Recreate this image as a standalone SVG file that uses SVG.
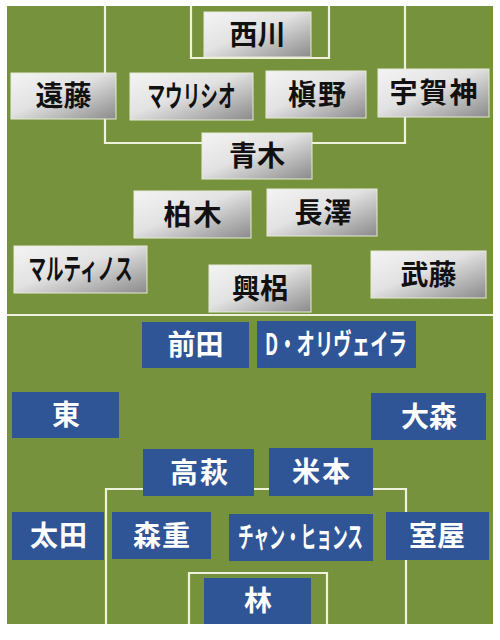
<svg xmlns="http://www.w3.org/2000/svg" width="500" height="640" viewBox="0 0 500 640">
<defs>
<linearGradient id="gr" x1="0" y1="0" x2="1" y2="1">
<stop offset="0" stop-color="#f4f4f4"/>
<stop offset="0.45" stop-color="#e2e2e2"/>
<stop offset="1" stop-color="#8a8a8a"/>
</linearGradient>
<style>
.ln{fill:none;stroke:#eef2da;stroke-width:2.2}
.p rect{fill:url(#gr);stroke:#e6ead6;stroke-width:1}
.b rect{fill:#2f5597}
text{font-family:"Noto Sans CJK JP","Noto Sans",sans-serif;font-weight:bold;font-size:28px;text-anchor:middle}
.p text{fill:#111}
.b text{fill:#ffffff}
.k{font-size:29px}
</style>
</defs>
<rect width="500" height="640" fill="#ffffff"/>
<rect x="7" y="6" width="486" height="618" fill="#76923c"/>
<g id="field">
<line class="ln" x1="7" y1="315" x2="493" y2="315" stroke-width="2.6"/>
<path class="ln" d="M105,6V143H405V6"/>
<path class="ln" d="M191,6V58H329V6"/>
<path class="ln" d="M106,624V489H406V624"/>
<path class="ln" d="M189,624V573H327V624"/>
</g>
<g id="home">
<g id="n-nishikawa" class="p"><rect x="204" y="12" width="107" height="45"/><text x="257.5" y="44.5" textLength="56" lengthAdjust="spacing">西川</text></g>
<g id="n-endo" class="p"><rect x="11" y="73" width="105" height="46"/><text x="63.5" y="106" textLength="56" lengthAdjust="spacing">遠藤</text></g>
<g id="n-mauricio" class="p"><rect x="130" y="73" width="123" height="47"/><text class="k" x="191.5" y="107" textLength="88" lengthAdjust="spacingAndGlyphs">マウリシオ</text></g>
<g id="n-makino" class="p"><rect x="266" y="71" width="100" height="47"/><text x="317" y="104.5" textLength="58" lengthAdjust="spacing">槇野</text></g>
<g id="n-ugajin" class="p"><rect x="378" y="69" width="111" height="48"/><text x="433.5" y="103" textLength="88" lengthAdjust="spacing">宇賀神</text></g>
<g id="n-aoki" class="p"><rect x="202" y="133" width="110" height="46"/><text x="257" y="166" textLength="56" lengthAdjust="spacing">青木</text></g>
<g id="n-kashiwagi" class="p"><rect x="134" y="191" width="117" height="47"/><text x="192.5" y="224.5" textLength="58" lengthAdjust="spacing">柏木</text></g>
<g id="n-nagasawa" class="p"><rect x="267" y="189" width="110" height="47"/><text x="323" y="222.5" textLength="57" lengthAdjust="spacing">長澤</text></g>
<g id="n-martinus" class="p"><rect x="14" y="246" width="133" height="47"/><text class="k" x="80.5" y="280" textLength="104" lengthAdjust="spacingAndGlyphs">マルティノス</text></g>
<g id="n-koroki" class="p"><rect x="209" y="265" width="102" height="47"/><text x="260" y="298.5" textLength="56" lengthAdjust="spacing">興梠</text></g>
<g id="n-muto" class="p"><rect x="371" y="251" width="115" height="47"/><text x="428.5" y="284.5" textLength="56" lengthAdjust="spacing">武藤</text></g>
</g>
<g id="away">
<g id="n-maeda" class="b"><rect x="142" y="322" width="107" height="46"/><text x="195.5" y="355" textLength="56" lengthAdjust="spacing">前田</text></g>
<g id="n-oliveira" class="b"><rect x="257" y="321" width="159" height="47"/><text class="k" x="336" y="355" textLength="142" lengthAdjust="spacingAndGlyphs">D・オリヴェイラ</text></g>
<g id="n-azuma" class="b"><rect x="12" y="392" width="107" height="46"/><text x="66" y="425">東</text></g>
<g id="n-omori" class="b"><rect x="371" y="393" width="115" height="47"/><text x="429" y="426.5" textLength="56" lengthAdjust="spacing">大森</text></g>
<g id="n-takahagi" class="b"><rect x="143" y="449" width="111" height="47"/><text x="199" y="482.5" textLength="58" lengthAdjust="spacing">高萩</text></g>
<g id="n-yonemoto" class="b"><rect x="269" y="448" width="104" height="48"/><text x="321" y="482" textLength="58" lengthAdjust="spacing">米本</text></g>
<g id="n-ota" class="b"><rect x="12" y="512" width="92" height="48"/><text x="58.5" y="546" textLength="57" lengthAdjust="spacing">太田</text></g>
<g id="n-morishige" class="b"><rect x="112" y="512" width="99" height="47"/><text x="161.5" y="545.5" textLength="57" lengthAdjust="spacing">森重</text></g>
<g id="n-jang" class="b"><rect x="229" y="514" width="144" height="47"/><text class="k" x="300.5" y="548" textLength="125" lengthAdjust="spacingAndGlyphs">チャン・ヒョンス</text></g>
<g id="n-muroya" class="b"><rect x="386" y="512" width="103" height="48"/><text x="437" y="546">室屋</text></g>
<g id="n-hayashi" class="b"><rect x="204" y="578" width="107" height="46"/><text x="258" y="611">林</text></g>
</g>
</svg>
